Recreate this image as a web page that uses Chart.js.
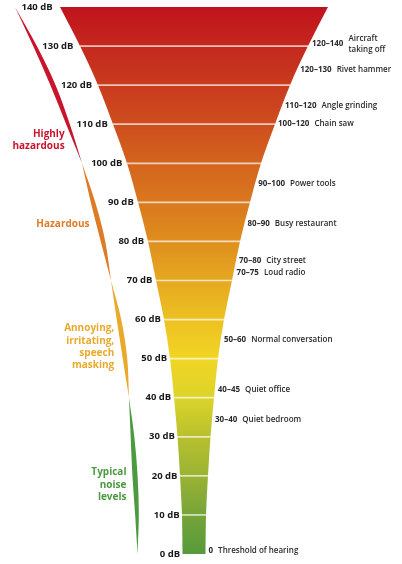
<!DOCTYPE html>
<html>
<head>
<meta charset="utf-8">
<title>Noise levels</title>
<script src="https://cdn.jsdelivr.net/npm/chart.js@4.4.0/dist/chart.umd.min.js"></script>
<style>
  html, body { margin: 0; padding: 0; background: #fff; }
  #wrap { width: 402px; height: 564px; position: relative; }
</style>
</head>
<body>
<div id="wrap"><canvas id="noiseChart"></canvas></div>
<script>
// decibel levels of the funnel, bottom to top
const levels = [0, 10, 20, 30, 40, 50, 60, 70, 80, 90, 100, 110, 120, 130, 140];
const tickLabels = ['0 dB', '10 dB', '20 dB', '30 dB', '40 dB', '50 dB', '60 dB', '70 dB',
                    '80 dB', '90 dB', '100 dB', '110 dB', '120 dB', '130 dB', '140 dB'];
// funnel width at each level (x axis units)
const funnelWidth = [23, 24, 28, 33, 40, 48, 60, 76, 92, 112, 134, 162, 192, 228, 268];
const levelColors = ['#579a3c', '#76a438', '#9ab334', '#b8c02e', '#dcd42a', '#f1d524', '#edc122',
                     '#e6a820', '#df8e1e', '#d9781e', '#d4641e', '#cd4d1e', '#c93b1e', '#c4281e', '#bf131d'];

// hazard zones shown on the left
const zoneNames = [['Highly', 'hazardous'], ['Hazardous'], ['Annoying,', 'irritating,', 'speech', 'masking'], ['Typical', 'noise', 'levels']];
const zoneLow = [100, 70, 40, 0];
const zoneHigh = [140, 100, 70, 40];
const zoneLabelLevel = [106, 84.5, 53, 17.7];
const zoneColors = ['#c8152c', '#de7b27', '#e9aa2c', '#4b9a40'];

// typical sources on the right
const sourceRanges = ['120–140', '120–130', '110–120', '100–120', '90–100', '80–90', '70–80', '70–75', '50–60', '40–45', '30–40', '0'];
const sourceNames = [['Aircraft', 'taking off'], ['Rivet hammer'], ['Angle grinding'], ['Chain saw'], ['Power tools'],
                     ['Busy restaurant'], ['City street'], ['Loud radio'], ['Normal conversation'], ['Quiet office'],
                     ['Quiet bedroom'], ['Threshold of hearing']];
const sourceLevel = [130.5, 124, 114.7, 110, 94.7, 84.5, 75, 72, 54.8, 42, 34.3, 0.8];

const ZONE_GAP = 45;     // distance of the zone stripe from the funnel edge
const STRIPE_W = 5.2;    // max stripe thickness
const FONT = '"Open Sans", "Noto Sans", sans-serif';

function halfWidthAt(db) {
    for (let i = 0; i < levels.length - 1; i++) {
        if (db >= levels[i] && db <= levels[i + 1]) {
            const t = (db - levels[i]) / (levels[i + 1] - levels[i]);
            return (funnelWidth[i] + t * (funnelWidth[i + 1] - funnelWidth[i])) / 2;
        }
    }
    return funnelWidth[funnelWidth.length - 1] / 2;
}

function funnelGradient(context) {
    const chart = context.chart;
    if (!chart.chartArea) return levelColors[0];
    const y = chart.scales.y;
    const g = chart.ctx.createLinearGradient(0, y.getPixelForValue(0), 0, y.getPixelForValue(140));
    levels.forEach((lv, i) => g.addColorStop(lv / 140, levelColors[i]));
    return g;
}

const datasets = [];

// white separators between the bands
levels.slice(1, -1).forEach(lv => {
    const half = halfWidthAt(lv);
    datasets.push({
        data: [{ x: -half, y: lv }, { x: half, y: lv }],
        borderColor: 'rgba(255,255,255,0.7)', borderWidth: 1.7,
        tension: 0, cubicInterpolationMode: 'default', fill: false, order: 0
    });
});

// funnel edges, filled between
datasets.push({
    data: levels.map((lv, i) => ({ x: -funnelWidth[i] / 2, y: lv })),
    borderWidth: 0, fill: false, order: 5
});
datasets.push({
    data: levels.map((lv, i) => ({ x: funnelWidth[i] / 2, y: lv })),
    borderWidth: 0, fill: '-1', backgroundColor: funnelGradient, order: 5
});

// zone stripes on the left
zoneLow.forEach((low, z) => {
    const high = zoneHigh[z];
    const pts = levels.map((lv, i) => ({ lv, i })).filter(p => p.lv >= low && p.lv <= high);
    const stripe = side => pts.map(p => {
        const w = STRIPE_W * Math.sin(Math.PI * (p.lv - low) / (high - low));
        return { x: -funnelWidth[p.i] / 2 - ZONE_GAP + side * w / 2, y: p.lv };
    });
    datasets.push({ data: stripe(-1), borderWidth: 0, fill: false, order: 3 });
    datasets.push({ data: stripe(1), borderWidth: 0, fill: '-1', backgroundColor: zoneColors[z], order: 3 });
});

const labelPlugin = {
    id: 'noiseLabels',
    afterDatasetsDraw(chart) {
        const { ctx, scales: { x, y } } = chart;
        ctx.save();
        ctx.textBaseline = 'middle';

        // dB labels along the left edge of the funnel
        ctx.font = 'bold 9.5px ' + FONT;
        ctx.textAlign = 'right';
        ctx.fillStyle = '#1a1a1a';
        levels.forEach((lv, i) => {
            const half = funnelWidth[i] / 2;
            ctx.fillText(tickLabels[i], x.getPixelForValue(-half) - (2 + 0.04 * half), y.getPixelForValue(lv));
        });

        // zone names
        ctx.font = 'bold 10px ' + FONT;
        zoneNames.forEach((lines, z) => {
            const lv = zoneLabelLevel[z];
            const right = x.getPixelForValue(-halfWidthAt(lv) - ZONE_GAP) - 9;
            const cy = y.getPixelForValue(lv);
            ctx.fillStyle = zoneColors[z];
            lines.forEach((t, k) => ctx.fillText(t, right, cy + (k - (lines.length - 1) / 2) * 12.3));
        });

        // sources on the right
        ctx.textAlign = 'left';
        ctx.fillStyle = '#2a2a2a';
        sourceRanges.forEach((r, s) => {
            const lv = sourceLevel[s];
            const left = x.getPixelForValue(halfWidthAt(lv)) + 3;
            const cy = y.getPixelForValue(lv);
            ctx.font = 'bold 8px ' + FONT;
            ctx.fillText(r, left, cy);
            const nameX = left + ctx.measureText(r).width + 5;
            ctx.font = '600 8px ' + FONT;
            const lines = sourceNames[s];
            lines.forEach((t, k) => ctx.fillText(t, nameX, cy + (k - (lines.length - 1) / 2) * 11));
        });
        ctx.restore();
    }
};

new Chart(document.getElementById('noiseChart'), {
    type: 'line',
    data: { datasets },
    options: {
        indexAxis: 'y',
        responsive: true,
        maintainAspectRatio: false,
        animation: false,
        events: [],
        layout: { padding: { top: 7, bottom: 10, left: 0, right: 0 } },
        scales: {
            x: { type: 'linear', min: -194, max: 208, display: false },
            y: { type: 'linear', min: 0, max: 140, display: false }
        },
        elements: {
            point: { radius: 0 },
            line: { cubicInterpolationMode: 'monotone' }
        },
        plugins: {
            legend: { display: false },
            tooltip: { enabled: false }
        }
    },
    plugins: [labelPlugin]
});
</script>
</body>
</html>
